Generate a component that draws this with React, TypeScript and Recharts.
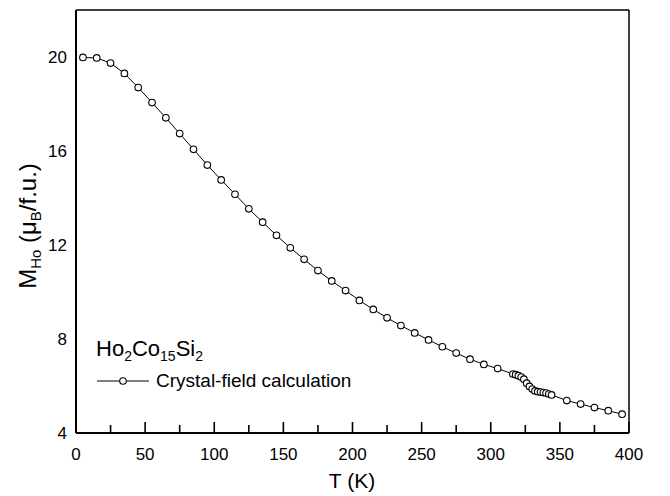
import React from "react";
import { LineChart, Line, XAxis, YAxis } from "recharts";

// temperature (K) and Ho sublattice moment (muB / f.u.)
const temps = [
  5, 15, 25, 35, 45, 55, 65, 75, 85, 95, 105, 115, 125, 135, 145, 155, 165, 175, 185, 195,
  205, 215, 225, 235, 245, 255, 265, 275, 285, 295, 305,
  316, 318, 320, 322, 324, 326, 328, 330, 332, 334, 336, 338, 340, 342, 344,
  355, 365, 375, 385, 395,
];
const moments = [
  19.98, 19.96, 19.74, 19.3, 18.7, 18.06, 17.41, 16.74, 16.07, 15.4, 14.77, 14.16, 13.54, 12.97,
  12.41, 11.88, 11.39, 10.91, 10.47, 10.06, 9.64, 9.26, 8.9, 8.57, 8.26, 7.96, 7.67, 7.4, 7.14,
  6.92, 6.74,
  6.51, 6.48, 6.44, 6.38, 6.29, 6.12, 5.98, 5.87, 5.79, 5.76, 5.74, 5.72, 5.7, 5.66, 5.62,
  5.38, 5.23, 5.08, 4.95, 4.8,
];
const xMajorTicks = [0, 50, 100, 150, 200, 250, 300, 350, 400];
const xMinorTicks = [25, 75, 125, 175, 225, 275, 325, 375];
const yMajorTicks = [4, 8, 12, 16, 20];
const yMinorTicks = [6, 10, 14, 18];
const seriesName = "Crystal-field calculation";

const data = temps.map((t, i) => ({ t, m: moments[i] }));

const FONT = "'Liberation Sans', Arial, Helvetica, sans-serif";

const XTick = (props: any) => {
  const { x, y, payload } = props;
  return (
    <text x={x} y={y + 27} textAnchor="middle" fontSize={17} fontFamily={FONT} fill="#000">
      {payload.value}
    </text>
  );
};

const YTick = (props: any) => {
  const { x, y, payload } = props;
  return (
    <text x={x - 9} y={y + 6} textAnchor="end" fontSize={17} fontFamily={FONT} fill="#000">
      {payload.value}
    </text>
  );
};

const NoLabel = () => <g />;

const YLabel = () => (
  <text
    transform="translate(36, 226) rotate(-90)"
    textAnchor="middle"
    fontSize={24}
    fontFamily={FONT}
    fill="#000"
  >
    M
    <tspan dy={5} fontSize={15}>Ho</tspan>
    <tspan dy={-5}> (μ</tspan>
    <tspan dy={5} fontSize={15}>B</tspan>
    <tspan dy={-5}>/f.u.)</tspan>
  </text>
);

const XLabel = () => (
  <text x={352} y={488} textAnchor="middle" fontSize={21} fontFamily={FONT} fill="#000">
    T (K)
  </text>
);

const tickStroke = { stroke: "#000", strokeWidth: 1.6 };
const sub = { fontSize: 14, verticalAlign: "-5px" } as const;

export default function App() {
  return (
    <div style={{ position: "absolute", left: 0, top: 0, width: 670, height: 496, background: "#fff" }}>
      <LineChart width={670} height={496} data={data} margin={{ top: 9, right: 40, bottom: 30, left: 16 }}>
        {/* labelled bottom axis */}
        <XAxis
          dataKey="t"
          type="number"
          domain={[0, 400]}
          ticks={xMajorTicks}
          interval={0}
          tickSize={0}
          tickMargin={0}
          tickLine={false}
          tick={<XTick />}
          height={33}
          axisLine={{ stroke: "#000", strokeWidth: 2 }}
          label={<XLabel />}
        />
        {/* inward tick marks */}
        <XAxis
          xAxisId="major"
          dataKey="t"
          type="number"
          domain={[0, 400]}
          ticks={xMajorTicks}
          interval={0}
          mirror
          height={1}
          tickSize={11}
          tickLine={tickStroke}
          tick={<NoLabel />}
          axisLine={false}
        />
        <XAxis
          xAxisId="minor"
          dataKey="t"
          type="number"
          domain={[0, 400]}
          ticks={xMinorTicks}
          interval={0}
          mirror
          height={1}
          tickSize={7}
          tickLine={tickStroke}
          tick={<NoLabel />}
          axisLine={false}
        />
        <XAxis
          xAxisId="top"
          orientation="top"
          dataKey="t"
          type="number"
          domain={[0, 400]}
          height={1}
          tick={false}
          tickLine={false}
          axisLine={{ stroke: "#000", strokeWidth: 1.5 }}
        />
        <YAxis
          type="number"
          domain={[4, 22]}
          ticks={yMajorTicks}
          interval={0}
          tickSize={0}
          tickMargin={0}
          tickLine={false}
          tick={<YTick />}
          width={60}
          axisLine={{ stroke: "#000", strokeWidth: 2 }}
          label={<YLabel />}
        />
        <YAxis
          yAxisId="major"
          type="number"
          domain={[4, 22]}
          ticks={yMajorTicks}
          interval={0}
          mirror
          width={1}
          tickSize={11}
          tickLine={tickStroke}
          tick={<NoLabel />}
          axisLine={false}
        />
        <YAxis
          yAxisId="minor"
          type="number"
          domain={[4, 22]}
          ticks={yMinorTicks}
          interval={0}
          mirror
          width={1}
          tickSize={7}
          tickLine={tickStroke}
          tick={<NoLabel />}
          axisLine={false}
        />
        <YAxis
          yAxisId="right"
          orientation="right"
          type="number"
          domain={[4, 22]}
          width={1}
          tick={false}
          tickLine={false}
          axisLine={{ stroke: "#000", strokeWidth: 1.5 }}
        />
        <Line
          type="linear"
          dataKey="m"
          name={seriesName}
          stroke="#000"
          strokeWidth={1}
          dot={{ r: 3.3, fill: "#fff", stroke: "#000", strokeWidth: 1.1 }}
          isAnimationActive={false}
        />
      </LineChart>
      <div style={{ position: "absolute", left: 96, top: 338, fontFamily: FONT, color: "#000", lineHeight: 1 }}>
        <div style={{ fontSize: 22 }}>
          Ho<span style={sub}>2</span>Co<span style={sub}>15</span>Si<span style={sub}>2</span>
        </div>
        <div style={{ display: "flex", alignItems: "center", marginTop: 8 }}>
          <svg width={54} height={12}>
            <line x1={1} x2={53} y1={6} y2={6} stroke="#000" strokeWidth={1} />
            <circle cx={27} cy={6} r={3.3} fill="#fff" stroke="#000" strokeWidth={1.1} />
          </svg>
          <span style={{ fontSize: 19, marginLeft: 6 }}>{seriesName}</span>
        </div>
      </div>
    </div>
  );
}
